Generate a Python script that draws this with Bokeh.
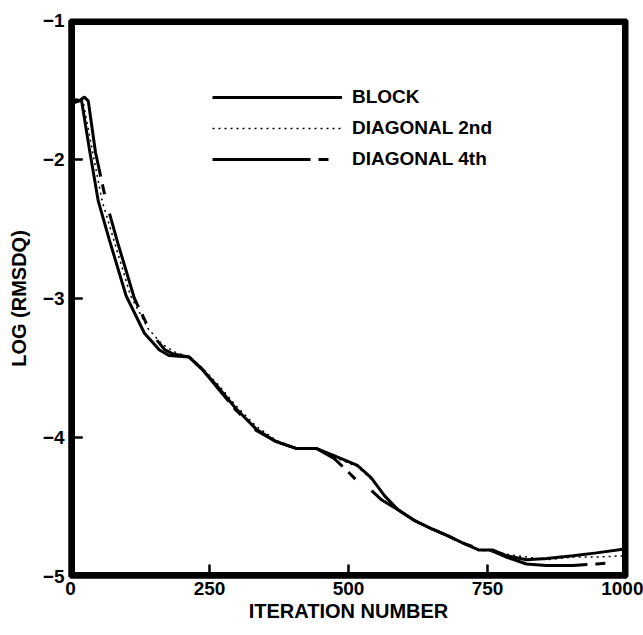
from bokeh.plotting import figure
from bokeh.models import Range1d, FixedTicker, Legend, LegendItem, Span
from bokeh.embed import file_html
from bokeh.resources import INLINE

# Convergence history: log10 of RMS density residual vs iteration count
block_x = [0, 10, 20, 35, 50, 70, 100, 133, 160, 177, 213, 237, 268, 297, 334,
           370, 407, 443, 474, 516, 541, 565, 589, 620, 651, 680, 706, 735, 760,
           784, 820, 856, 904, 946, 1000]
block_y = [-1.60, -1.57, -1.58, -1.95, -2.30, -2.58, -2.98, -3.25, -3.37, -3.41,
           -3.42, -3.51, -3.65, -3.79, -3.94, -4.03, -4.08, -4.08, -4.13, -4.20,
           -4.29, -4.42, -4.52, -4.60, -4.66, -4.71, -4.76, -4.81, -4.81, -4.85,
           -4.88, -4.87, -4.85, -4.83, -4.80]

diag2_x = [0, 12, 22, 40, 57, 78, 108, 140, 165, 190, 213, 237, 268, 297, 334,
           370, 407, 443, 474, 516, 541, 565, 589, 620, 651, 680, 706, 735, 760,
           784, 820, 856, 904, 946, 1000]
diag2_y = [-1.60, -1.57, -1.57, -1.95, -2.30, -2.58, -2.98, -3.22, -3.33, -3.39,
           -3.42, -3.50, -3.63, -3.77, -3.92, -4.02, -4.08, -4.08, -4.14, -4.21,
           -4.30, -4.42, -4.52, -4.60, -4.66, -4.71, -4.76, -4.81, -4.82, -4.84,
           -4.86, -4.88, -4.86, -4.86, -4.85]

diag4_x = [0, 15, 25, 32, 45, 64, 85, 115, 145, 170, 185, 213, 237, 268, 297,
           334, 370, 407, 443, 474, 500, 520, 541, 560, 589, 620, 651, 680, 706,
           735, 760, 784, 820, 856, 904, 946, 1000]
diag4_y = [-1.60, -1.58, -1.55, -1.58, -1.95, -2.30, -2.60, -3.00, -3.25, -3.37,
           -3.40, -3.42, -3.51, -3.66, -3.80, -3.95, -4.03, -4.08, -4.08, -4.15,
           -4.25, -4.33, -4.38, -4.45, -4.52, -4.60, -4.66, -4.71, -4.76, -4.80,
           -4.82, -4.86, -4.91, -4.92, -4.92, -4.91, -4.89]

x_ticks = [0, 250, 500, 750, 1000]
y_ticks = [-5, -4, -3, -2, -1]
x_lim = [0, 1000]
y_lim = [-5, -1]

FONT = "Liberation Sans"

p = figure(width=643, height=635, output_backend="svg", toolbar_location=None,
           x_range=Range1d(*x_lim), y_range=Range1d(*y_lim),
           min_border_left=70, min_border_right=17,
           min_border_top=20, min_border_bottom=59)

p.xgrid.visible = False
p.ygrid.visible = False
p.background_fill_color = "white"
p.border_fill_color = "white"
p.outline_line_color = "black"
p.outline_line_width = 4

p.xaxis.ticker = FixedTicker(ticks=x_ticks)
p.yaxis.ticker = FixedTicker(ticks=y_ticks)
for ax in (p.xaxis, p.yaxis):
    ax.axis_line_color = "black"
    ax.axis_line_width = 4
    ax.major_tick_in = 12
    ax.major_tick_out = 0
    ax.major_tick_line_width = 2
    ax.major_tick_line_color = "black"
    ax.minor_tick_line_color = None
    ax.major_label_text_font = FONT
    ax.major_label_text_font_style = "bold"
    ax.major_label_text_font_size = "19px"
    ax.major_label_text_color = "black"
    ax.axis_label_text_font = FONT
    ax.axis_label_text_font_style = "bold"
    ax.axis_label_text_font_size = "20px"
    ax.axis_label_text_color = "black"

p.xaxis.axis_label = "ITERATION NUMBER"
p.yaxis.axis_label = "LOG (RMSDQ)"
p.xaxis.major_label_standoff = 5
p.yaxis.major_label_standoff = 6
p.xaxis.axis_label_standoff = 2
p.yaxis.axis_label_standoff = 10

r4 = p.line(diag4_x, diag4_y, line_color="black", line_width=3,
            line_dash="98 8 10 20")
rb = p.line(block_x, block_y, line_color="black", line_width=3)
r2 = p.line(diag2_x, diag2_y, line_color="black", line_width=1.5,
            line_dash="2 4")

# Heavy frame drawn along the range limits, on top of the curves
p.line([x_lim[0], x_lim[1], x_lim[1], x_lim[0], x_lim[0]],
       [y_lim[0], y_lim[0], y_lim[1], y_lim[1], y_lim[0]],
       line_color="#000000", line_width=9)
p.add_layout(Span(location=x_lim[0], dimension="height",
                  line_color="#000000", line_width=5))
p.add_layout(Span(location=x_lim[1], dimension="height",
                  line_color="#000000", line_width=5))
p.add_layout(Span(location=y_lim[0], dimension="width",
                  line_color="#000000", line_width=5))
p.add_layout(Span(location=y_lim[1], dimension="width",
                  line_color="#000000", line_width=5))

# Short inward tick marks at the interior tick positions
x_tick_len = 0.085 * (y_lim[1] - y_lim[0]) / 4
y_tick_len = 0.022 * (x_lim[1] - x_lim[0])
p.segment(x0=x_ticks[1:-1], y0=[y_lim[0]] * 3,
          x1=x_ticks[1:-1], y1=[y_lim[0] + x_tick_len] * 3,
          line_color="#000000", line_width=2)
p.segment(x0=[x_lim[0]] * 3, y0=y_ticks[1:-1],
          x1=[x_lim[0] + y_tick_len] * 3, y1=y_ticks[1:-1],
          line_color="#000000", line_width=2)

legend = Legend(
    items=[LegendItem(label="BLOCK", renderers=[rb]),
           LegendItem(label="DIAGONAL 2nd", renderers=[r2]),
           LegendItem(label="DIAGONAL 4th", renderers=[r4])],
    location=(142, 406), glyph_width=130, glyph_height=20,
    label_height=20, label_standoff=10, spacing=9, padding=0, margin=0,
    border_line_color=None, background_fill_alpha=0,
    label_text_font=FONT, label_text_font_style="bold",
    label_text_font_size="19px", label_text_color="black")
p.add_layout(legend)

open("out.html", "w").write(file_html(p, INLINE))
